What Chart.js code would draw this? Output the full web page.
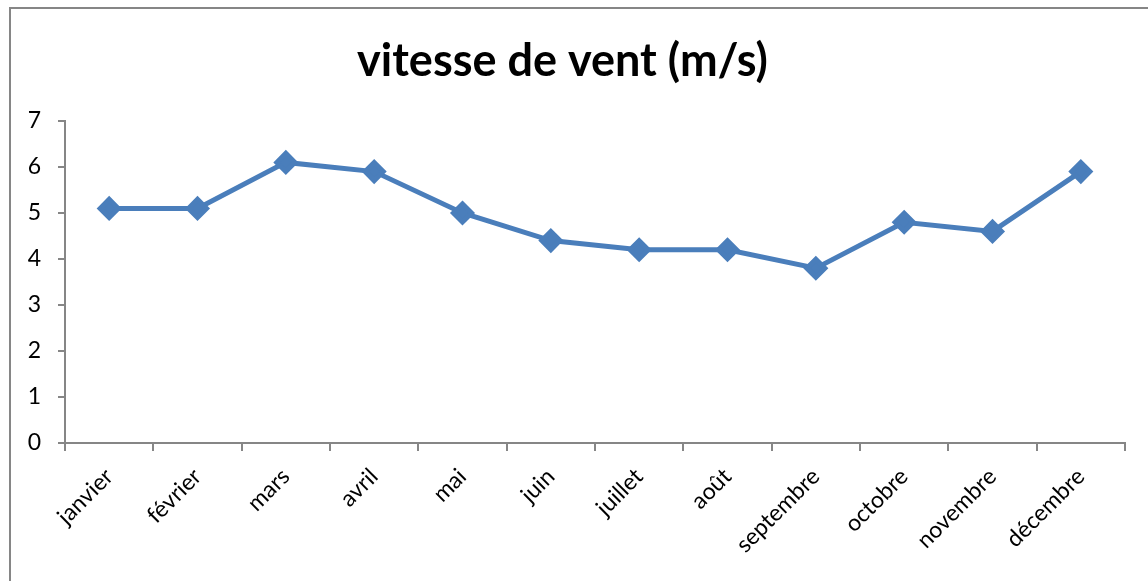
<!DOCTYPE html>
<html>
<head>
<meta charset="utf-8">
<script src="https://cdn.jsdelivr.net/npm/chart.js@4/dist/chart.umd.min.js"></script>
<style>
  html, body { margin: 0; padding: 0; background: #fff; overflow: hidden; }
  #frame { position: absolute; left: 9px; top: 7px; width: 1200px; height: 640px; border: 2px solid #868686; }
  #wrap { position: absolute; left: 0; top: 0; width: 1148px; height: 581px; }
</style>
</head>
<body>
<div id="frame"></div>
<div id="wrap"><canvas id="myChart"></canvas></div>
<script>
// monthly wind speed values
let months = ['janvier', 'février', 'mars', 'avril', 'mai', 'juin', 'juillet', 'août', 'septembre', 'octobre', 'novembre', 'décembre'];
let windSpeed = [5.1, 5.1, 6.1, 5.9, 5.0, 4.4, 4.2, 4.2, 3.8, 4.8, 4.6, 5.9];
let yTicks = [0, 1, 2, 3, 4, 5, 6, 7];

let axisColor = '#868686';
let blue = '#4a7ebb';

let ctx = document.getElementById('myChart').getContext('2d');
let myChart = new Chart(ctx, {
    type: 'line',
    data: {
        labels: months,
        datasets: [
            {
                label: 'vitesse de vent (m/s)',
                data: windSpeed,
                borderColor: blue,
                backgroundColor: blue,
                borderWidth: 5,
                pointStyle: 'rectRot',
                pointRadius: 9,
                pointHoverRadius: 9,
                tension: 0,
                fill: false
            }]
    },
    options: {
        responsive: true,
        maintainAspectRatio: false,
        animation: false,
        layout: { padding: { left: 0, right: 23, top: 14, bottom: 0 } },
        plugins: {
            legend: { display: false },
            tooltip: { enabled: false },
            title: {
                display: true,
                text: 'vitesse de vent (m/s)',
                color: '#000',
                font: { family: 'Lato', size: 45, weight: 'bold' },
                padding: { top: 20, bottom: 33 }
            }
        },
        scales: {
            x: {
                offset: true,
                grid: { offset: true, drawOnChartArea: false, color: axisColor, lineWidth: 2, tickLength: 8 },
                border: { color: axisColor, width: 2 },
                ticks: {
                    color: '#000',
                    font: { family: 'Lato', size: 23 },
                    minRotation: 45,
                    maxRotation: 45,
                    padding: 12
                },
                afterFit(scale) { scale.height = 138; }
            },
            y: {
                min: 0,
                max: 7,
                afterBuildTicks(scale) { scale.ticks = yTicks.map(v => ({ value: v })); },
                grid: { drawOnChartArea: false, color: axisColor, lineWidth: 2, tickLength: 7 },
                border: { color: axisColor, width: 2 },
                ticks: {
                    color: '#000',
                    font: { family: 'Lato', size: 23 },
                    padding: 17
                },
                afterFit(scale) { scale.width = 65; }
            }
        }
    }
});
</script>
</body>
</html>
